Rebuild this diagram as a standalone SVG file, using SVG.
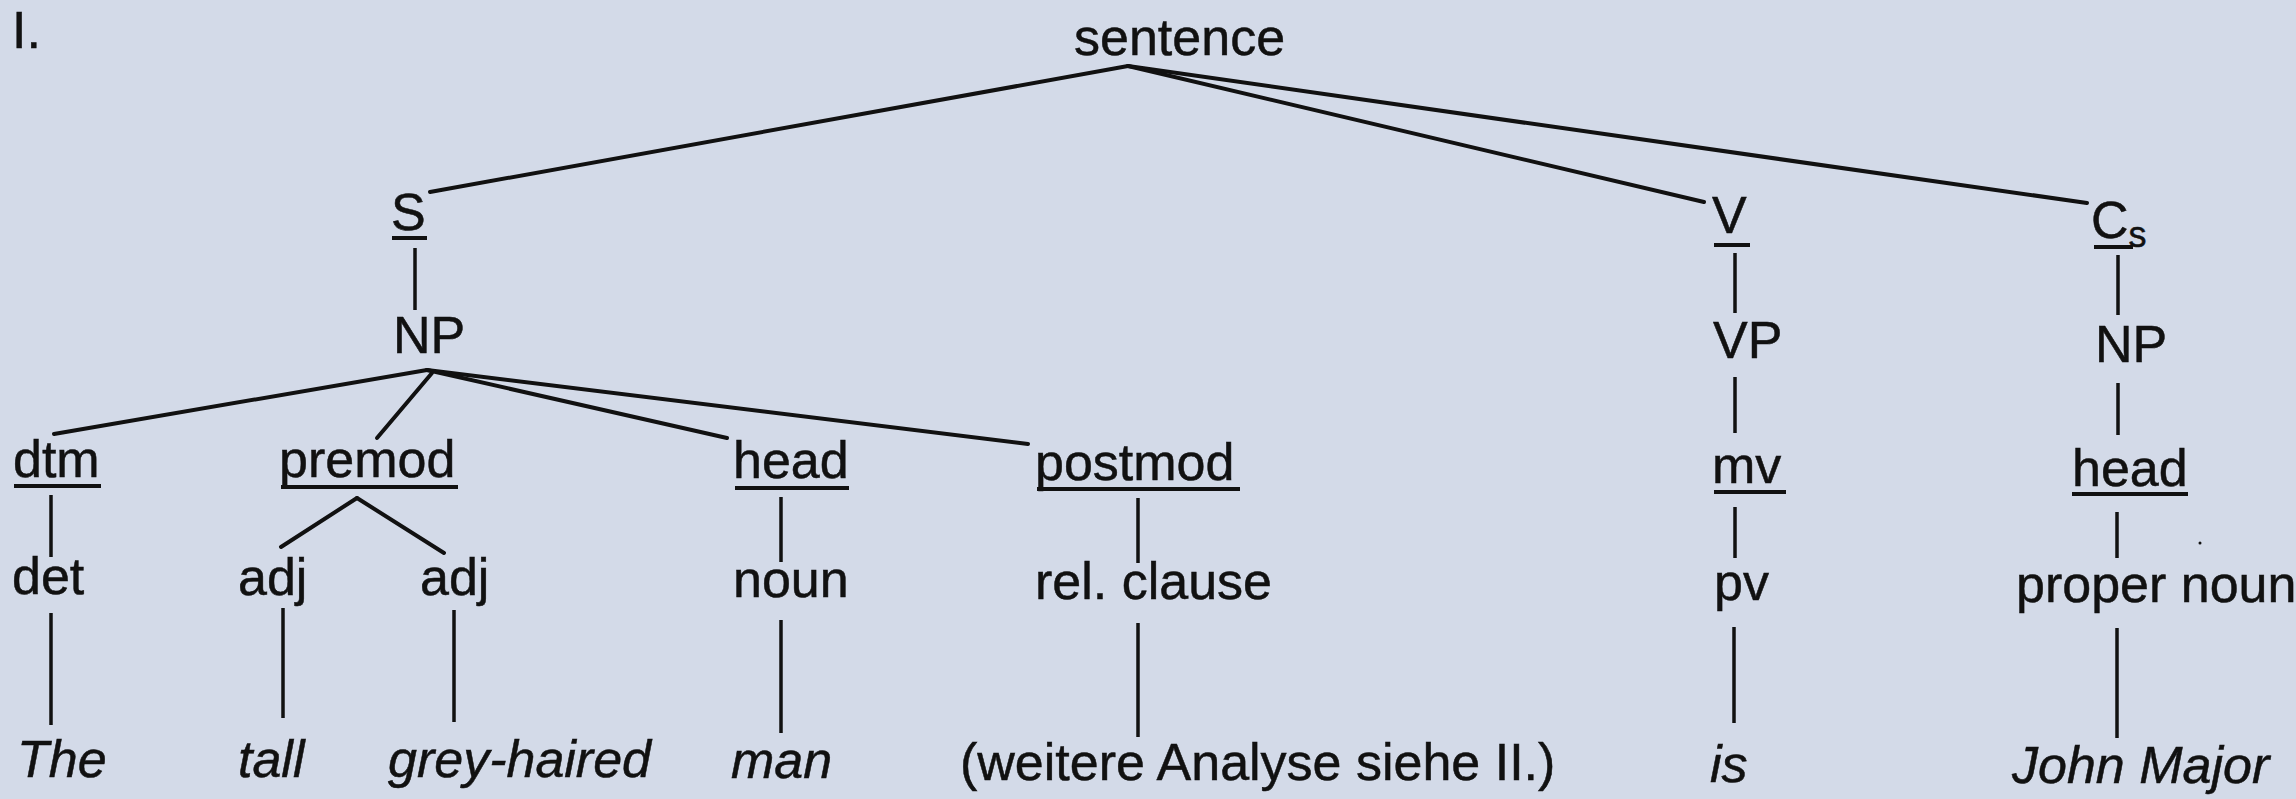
<svg xmlns="http://www.w3.org/2000/svg" width="2296" height="799" viewBox="0 0 2296 799">
  <style>
    .t { font-family: "Liberation Sans", Arial, sans-serif; font-size: 52px; fill: #111; stroke: #111; stroke-width: 0.5; }
    .i { font-style: italic; }
    .sub { font-size: 36px; }
    .e { stroke: #111; stroke-width: 4; fill: none; stroke-linecap: round; }
    .v { stroke: #111; stroke-width: 3.5; fill: none; stroke-linecap: butt; }
    .u { stroke: #111; stroke-width: 4; }
  </style>
  <rect width="2296" height="799" fill="#d3dae8"/>

  <text class="t" x="12" y="48">I.</text>

  <!-- branches of the tree -->
  <g id="connectors">
    <line class="e" x1="1128" y1="66" x2="430" y2="192"/>
    <line class="e" x1="1128" y1="66" x2="1704" y2="202"/>
    <line class="e" x1="1128" y1="66" x2="2087" y2="203"/>
    <line class="v" x1="415" y1="248" x2="415" y2="310"/>
    <line class="v" x1="1735" y1="253" x2="1735" y2="313"/>
    <line class="v" x1="2118" y1="255" x2="2118" y2="315"/>
    <line class="e" x1="427" y1="370" x2="54" y2="434"/>
    <line class="e" x1="432" y1="373" x2="377" y2="438"/>
    <line class="e" x1="427" y1="370" x2="727" y2="438"/>
    <line class="e" x1="427" y1="370" x2="1028" y2="444"/>
    <line class="v" x1="1735" y1="377" x2="1735" y2="433"/>
    <line class="v" x1="2118" y1="383" x2="2118" y2="435"/>
    <line class="e" x1="357" y1="498" x2="281" y2="547"/>
    <line class="e" x1="357" y1="498" x2="444" y2="553"/>
    <line class="v" x1="51" y1="495" x2="51" y2="557"/>
    <line class="v" x1="781" y1="497" x2="781" y2="562"/>
    <line class="v" x1="1138" y1="498" x2="1138" y2="563"/>
    <line class="v" x1="1735" y1="507" x2="1735" y2="558"/>
    <line class="v" x1="2117" y1="512" x2="2117" y2="558"/>
    <line class="v" x1="51" y1="613" x2="51" y2="725"/>
    <line class="v" x1="283" y1="608" x2="283" y2="718"/>
    <line class="v" x1="454" y1="610" x2="454" y2="722"/>
    <line class="v" x1="781" y1="620" x2="781" y2="733"/>
    <line class="v" x1="1138" y1="623" x2="1138" y2="737"/>
    <line class="v" x1="1734" y1="627" x2="1734" y2="723"/>
    <line class="v" x1="2117" y1="628" x2="2117" y2="738"/>
  </g>

  <g id="sentence"><text class="t" x="1074" y="55">sentence</text></g>

  <g id="S"><text class="t" x="391" y="230">S</text><line class="u" x1="392" y1="238" x2="427" y2="238"/></g>
  <g id="V"><text class="t" x="1712" y="233">V</text><line class="u" x1="1714" y1="245" x2="1750" y2="245"/></g>
  <g id="Cs"><text class="t" x="2091" y="238">C<tspan class="sub" dy="9">s</tspan></text><line class="u" x1="2094" y1="247" x2="2133" y2="247"/></g>

  <g id="NP-S"><text class="t" x="393" y="353">NP</text></g>
  <g id="VP"><text class="t" x="1713" y="358">VP</text></g>
  <g id="NP-Cs"><text class="t" x="2095" y="362">NP</text></g>

  <g id="dtm"><text class="t" x="13" y="477">dtm</text><line class="u" x1="14" y1="486" x2="101" y2="486"/></g>
  <g id="premod"><text class="t" x="279" y="477">premod</text><line class="u" x1="281" y1="487" x2="458" y2="487"/></g>
  <g id="head-np"><text class="t" x="733" y="478">head</text><line class="u" x1="735" y1="488" x2="849" y2="488"/></g>
  <g id="postmod"><text class="t" x="1035" y="480">postmod</text><line class="u" x1="1037" y1="489" x2="1240" y2="489"/></g>
  <g id="mv"><text class="t" x="1712" y="483">mv</text><line class="u" x1="1714" y1="492" x2="1786" y2="492"/></g>
  <g id="head-cs"><text class="t" x="2072" y="486">head</text><line class="u" x1="2072" y1="494" x2="2188" y2="494"/></g>

  <g id="det"><text class="t" x="12" y="594">det</text></g>
  <g id="adj1"><text class="t" x="238" y="595">adj</text></g>
  <g id="adj2"><text class="t" x="420" y="595">adj</text></g>
  <g id="noun"><text class="t" x="733" y="597">noun</text></g>
  <g id="rel-clause"><text class="t" x="1035" y="599">rel. clause</text></g>
  <g id="pv"><text class="t" x="1714" y="600">pv</text></g>
  <g id="proper-noun"><text class="t" x="2016" y="602">proper noun</text></g>

  <g id="The"><text class="t i" x="17" y="777">The</text></g>
  <g id="tall"><text class="t i" x="238" y="777">tall</text></g>
  <g id="grey-haired"><text class="t i" x="388" y="777">grey-haired</text></g>
  <g id="man"><text class="t i" x="731" y="778">man</text></g>
  <g id="analysis"><text class="t" x="960" y="780">(weitere Analyse siehe II.)</text></g>
  <g id="is"><text class="t i" x="1710" y="782">is</text></g>
  <g id="John-Major"><text class="t i" x="2012" y="783">John Major</text></g>

  <circle cx="2200" cy="543" r="1.5" fill="#111"/>
</svg>
